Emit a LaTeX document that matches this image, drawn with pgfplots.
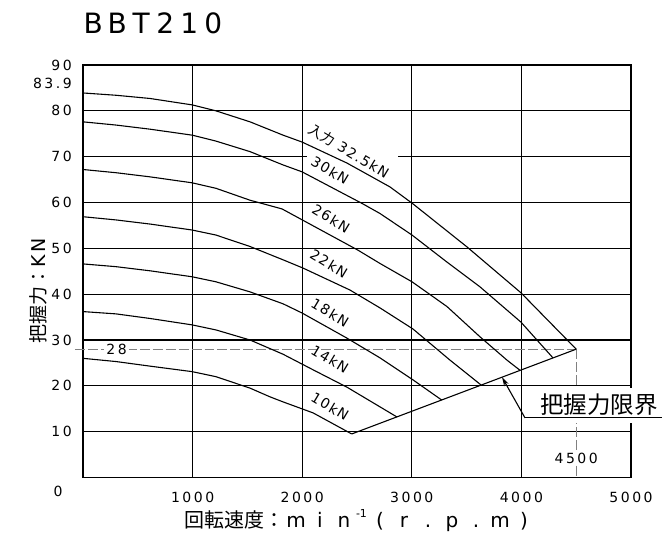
\documentclass[border=0pt]{standalone}
\usepackage{fontspec}
\setmainfont{DejaVu Sans}
\newfontfamily\cjk{Noto Sans CJK JP}
\newfontfamily\tickfont[LetterSpace=18]{DejaVu Sans}
\newfontfamily\lblfont[LetterSpace=10]{DejaVu Sans}
\usepackage{pgfplots}
\pgfplotsset{compat=1.18}
\usetikzlibrary{arrows.meta}

% one character in a fixed-width box (plotter-like spacing)
\newcommand\cb[2][24bp]{\makebox[#1]{#2}}

\pgfplotsset{
  curve/.style={black, solid, line width=1.1pt, no marks},
  refline/.style={gray, line width=0.5pt, dash pattern=on 10pt off 3pt, no marks},
}

\begin{document}
\begin{tikzpicture}
\begin{axis}[
  scale only axis, width=548bp, height=412.5bp,
  xmin=0, xmax=5000, ymin=0, ymax=90,
  xtick={1000,2000,3000,4000,5000},
  ytick={10,20,30,40,50,60,70,80,90},
  extra y ticks={86}, extra y tick labels={83.9},
  extra y tick style={grid=none},
  major tick length=0pt,
  grid=major,
  major grid style={black, line width=1.2pt},
  axis line style={black, line width=1.3pt},
  clip=false,
  /pgf/number format/assume math mode=true,
  /pgf/number format/1000 sep={},
  tick label style={font=\fontsize{14bp}{14bp}\tickfont, inner sep=0pt},
  xticklabel style={anchor=center, yshift=-19.5bp},
  yticklabel style={anchor=east, xshift=-11bp},
]
% gap in the 70 kN grid line behind the top label
\fill[white] (axis cs:2044,69.3) rectangle (axis cs:2874,70.7);

% 28 kN / 4500 reference lines
\addplot[refline] coordinates {(-73,28) (4500,28)};
\addplot[refline] coordinates {(4500,28) (4500,0)};

% input 32.5 kN
\addplot[curve] coordinates {(0,83.9) (301,83.4) (611,82.7) (995,81.3) (1213,80.0) (1524,77.6) (1825,74.7) (1998,73.2) (2409,68.6) (2801,63.4) (3011,59.7) (3504,50.3) (3996,40.3) (4500,28)};
% 30 kN
\addplot[curve] coordinates {(0,77.6) (301,76.9) (611,76.0) (995,74.7) (1213,73.4) (1524,71.1) (1825,68.2) (1998,66.7) (2546,59.8) (2710,57.6) (3002,52.9) (3321,47.0) (3622,41.6) (3996,33.9) (4288,26.1)};
% 26 kN
\addplot[curve] coordinates {(0,67.2) (301,66.5) (611,65.6) (995,64.3) (1213,63.1) (1524,60.5) (1816,58.6) (2509,49.6) (2710,46.7) (3002,42.7) (3321,37.3) (3622,30.7) (3869,25.6) (3987,23.4)};
% 22 kN
\addplot[curve] coordinates {(0,56.9) (301,56.2) (611,55.3) (995,54.0) (1213,52.9) (1524,50.4) (1825,47.5) (2007,45.7) (2436,40.9) (2710,37.0) (3011,32.4) (3349,25.6) (3631,20.2)};
% 18 kN
\addplot[curve] coordinates {(0,46.6) (301,46.0) (611,45.1) (995,43.8) (1213,42.7) (1524,40.5) (1825,37.9) (1998,35.9) (2409,30.4) (2710,26.1) (3011,21.3) (3273,16.9)};
% 14 kN
\addplot[curve] coordinates {(0,36.2) (301,35.7) (611,34.7) (995,33.3) (1213,32.2) (1524,30.0) (1825,26.9) (2099,23.5) (2409,19.7) (2865,13.2)};
% 10 kN
\addplot[curve] coordinates {(0,26.0) (301,25.3) (611,24.3) (995,23.1) (1213,22.0) (1524,19.5) (1706,17.6) (1825,16.5) (2099,14.1) (2452,9.5)};
% grip force limit
\addplot[curve] coordinates {(2452,9.5) (4500,28)};

\node[fill=white, inner sep=2pt, font=\fontsize{14bp}{14bp}\tickfont] at (axis cs:306,28) {28};
\node[fill=white, inner sep=2pt, font=\fontsize{14bp}{14bp}\tickfont] at (axis cs:4500,4.25) {4500};

\begin{scope}[every node/.style={rotate=-31, inner sep=0pt, font=\fontsize{14bp}{14bp}\lblfont}]
\node at (axis cs:2427,71.2) {{\cjk 入力} 32.5kN};
\node at (axis cs:2254,67.0) {30kN};
\node at (axis cs:2263,56.5) {26kN};
\node at (axis cs:2245,46.7) {22kN};
\node at (axis cs:2254,36.0) {18kN};
\node at (axis cs:2254,25.8) {14kN};
\node at (axis cs:2254,15.5) {10kN};
\end{scope}

% callout for the limit line
\fill[white] (axis cs:4078,11.9) rectangle (axis cs:5283,19.5);
\draw[line width=1.1pt] (axis cs:4033,13.0) -- (axis cs:5283,13.0);
\draw[line width=1.1pt, -{Stealth[length=9pt,width=5pt]}] (axis cs:4033,13.0) -- (axis cs:3823,21.9);
\node[anchor=south west, inner sep=0pt, font=\fontsize{23.5bp}{23.5bp}\cjk] at (axis cs:4170,13.4) {把握力限界};
\end{axis}

\node[anchor=west, inner sep=0pt, font=\fontsize{28bp}{28bp}\selectfont] at (-2bp,454.5bp) {\cb{B}\cb{B}\cb{T}\cb{2}\cb{1}\cb{0}};
\node[rotate=90, font=\fontsize{19bp}{19bp}\selectfont] at (-45bp,186.5bp) {{\cjk 把握力：}K\,N};
\node[font=\fontsize{20bp}{20bp}\selectfont] at (277bp,-43.5bp) {{\cjk 回転速度：}\cb{m}\cb{i}\cb{n}\makebox[12bp][l]{\raisebox{0.5em}{\fontsize{11bp}{11bp}\selectfont -1}}\cb{(}\cb{r}\cb{.}\cb{p}\cb{.}\cb{m}\cb{)}};
\node[font=\fontsize{14bp}{14bp}\tickfont] at (-25bp,-13.5bp) {0};

\pgfresetboundingbox
\path[use as bounding box] (-83bp,-58.5bp) rectangle (579bp,477.5bp);
\end{tikzpicture}
\end{document}
